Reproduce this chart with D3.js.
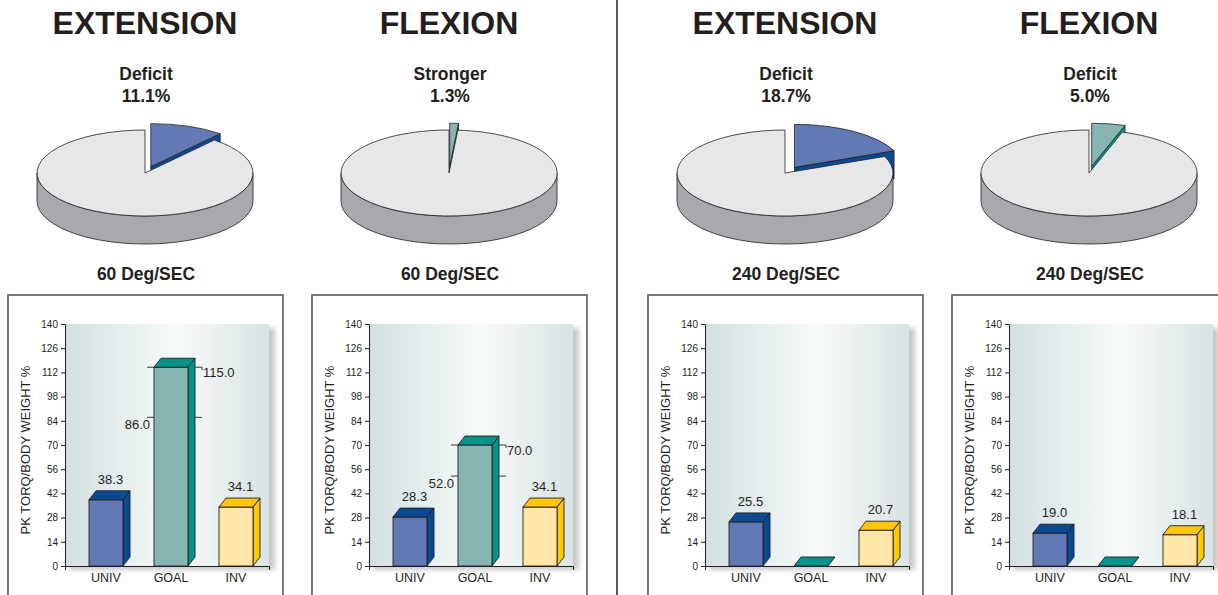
<!DOCTYPE html>
<html>
<head>
<meta charset="utf-8">
<script src="https://cdn.jsdelivr.net/npm/d3@7"></script>
<style>
  html, body { margin: 0; padding: 0; background: #ffffff; }
  svg { display: block; font-family: "Liberation Sans", Arial, Helvetica, sans-serif; }
</style>
</head>
<body>
<svg id="chart" width="1218" height="595"></svg>
<script>
// ---- data ----
const categories = ["UNIV", "GOAL", "INV"];
const panelTitles = ["EXTENSION", "FLEXION", "EXTENSION", "FLEXION"];
const speedLabels = ["60 Deg/SEC", "60 Deg/SEC", "240 Deg/SEC", "240 Deg/SEC"];
const pieLabels = ["Deficit", "Stronger", "Deficit", "Deficit"];
const piePercents = [11.1, 1.3, 18.7, 5.0];
const univValues = [38.3, 28.3, 25.5, 19.0];
const goalValues = [115.0, 70.0, 0, 0];
const goalLowValues = [86.0, 52.0, null, null];
const invValues = [34.1, 34.1, 20.7, 18.1];
const yTicks = [0, 14, 28, 42, 56, 70, 84, 98, 112, 126, 140];
const yLabel = "PK TORQ/BODY WEIGHT %";

// ---- styling ----
const ink = "#231f20";
const barColors = {
  UNIV: { front: "#6279b5", dark: "#0b4a92" },
  GOAL: { front: "#86b5b3", dark: "#00948c" },
  INV:  { front: "#fde6a6", dark: "#ffc60b" }
};
const sliceColors = {
  EXTENSION: { top: "#6279b5", side: "#0b4a92" },
  FLEXION:   { top: "#86b5b3", side: "#00948c" }
};
const pieTop = "#e6e7e8", pieSide = "#a7a9ac";

const svg = d3.select("#chart");
const defs = svg.append("defs");

const grad = defs.append("linearGradient").attr("id", "plotBg")
  .attr("x1", "0%").attr("x2", "100%").attr("y1", "0%").attr("y2", "0%");
grad.append("stop").attr("offset", "0%").attr("stop-color", "#d2e0e0");
grad.append("stop").attr("offset", "55%").attr("stop-color", "#f8fafa");
grad.append("stop").attr("offset", "100%").attr("stop-color", "#d8e3e3");

defs.append("filter").attr("id", "soft").attr("x", "-10%").attr("y", "-10%")
  .attr("width", "130%").attr("height", "130%")
  .append("feGaussianBlur").attr("stdDeviation", 2.5);

// panel geometry
const boxLefts = [8, 312, 648, 952];
const boxTop = 295, boxW = 275;
const plotTop = 324, plotBottom = 566, plotW = 204;
const barW = 34, depthX = 7, depthY = -9;

const y = d3.scaleLinear().domain([0, 140]).range([plotBottom, plotTop]);

// divider between the two speed groups
svg.append("line").attr("x1", 617).attr("x2", 617).attr("y1", 0).attr("y2", 595)
  .attr("stroke", ink).attr("stroke-width", 1.5);

// ---- 3D pie helpers ----
const pie = d3.pie().sort(null).value(d => d);

function drawPie(g, cx, cy, pct, kind) {
  const rx = 108, ry = 43, depth = 28, explode = 17;
  const arcs = pie([pct, 100 - pct]);
  const P = (a, ox, oy, dy) => [ox + rx * Math.sin(a), oy - ry * Math.cos(a) + (dy || 0)];
  const fmt = p => p[0].toFixed(2) + "," + p[1].toFixed(2);

  function sectorPath(ox, oy, a0, a1) {
    const large = (a1 - a0) > Math.PI ? 1 : 0;
    return "M" + fmt([ox, oy]) + "L" + fmt(P(a0, ox, oy)) +
      "A" + rx + "," + ry + " 0 " + large + " 1 " + fmt(P(a1, ox, oy)) + "Z";
  }
  function rimPath(ox, oy, a0, a1) {
    const b0 = Math.max(a0, Math.PI / 2), b1 = Math.min(a1, 3 * Math.PI / 2);
    if (b1 <= b0) return null;
    const large = (b1 - b0) > Math.PI ? 1 : 0;
    return "M" + fmt(P(b0, ox, oy)) +
      "A" + rx + "," + ry + " 0 " + large + " 1 " + fmt(P(b1, ox, oy)) +
      "L" + fmt(P(b1, ox, oy, depth)) +
      "A" + rx + "," + ry + " 0 " + large + " 0 " + fmt(P(b0, ox, oy, depth)) + "Z";
  }
  function endFace(ox, oy, a) {
    return "M" + fmt([ox, oy]) + "L" + fmt(P(a, ox, oy)) + "L" + fmt(P(a, ox, oy, depth)) +
      "L" + fmt([ox, oy + depth]) + "Z";
  }

  const s = arcs[0], m = arcs[1];
  const mid = (s.startAngle + s.endAngle) / 2;
  const sx = cx + explode * Math.sin(mid);
  const sy = cy - explode * Math.cos(mid) * ry / rx;
  const col = sliceColors[kind];

  // exploded slice (sits behind the main body)
  if (Math.sin(s.endAngle) > 0) {
    g.append("path").attr("d", endFace(sx, sy, s.endAngle))
      .attr("fill", col.side).attr("stroke", ink).attr("stroke-width", 0.8).attr("stroke-linejoin", "round");
  }
  const sr = rimPath(sx, sy, s.startAngle, s.endAngle);
  if (sr) g.append("path").attr("d", sr).attr("fill", col.side).attr("stroke", ink).attr("stroke-width", 0.8);
  g.append("path").attr("d", sectorPath(sx, sy, s.startAngle, s.endAngle))
    .attr("fill", col.top).attr("stroke", ink).attr("stroke-width", 0.8).attr("stroke-linejoin", "round");

  // main body
  const mr = rimPath(cx, cy, m.startAngle, m.endAngle);
  if (mr) g.append("path").attr("d", mr).attr("fill", pieSide).attr("stroke", ink).attr("stroke-width", 0.8);
  g.append("path").attr("d", sectorPath(cx, cy, m.startAngle, m.endAngle))
    .attr("fill", pieTop).attr("stroke", ink).attr("stroke-width", 0.8).attr("stroke-linejoin", "round");
}

// ---- 3D bar helper ----
function drawBar(g, xc, v, colors) {
  const x0 = xc - barW / 2, x1 = xc + barW / 2;
  const y0 = y(v), y1 = y(0);
  const pts = a => a.map(p => p.join(",")).join(" ");
  if (v > 0) {
    g.append("polygon")
      .attr("points", pts([[x1, y0], [x1 + depthX, y0 + depthY], [x1 + depthX, y1 + depthY], [x1, y1]]))
      .attr("fill", colors.dark).attr("stroke", ink).attr("stroke-width", 0.9).attr("stroke-linejoin", "round");
    g.append("rect").attr("x", x0).attr("y", y0).attr("width", barW).attr("height", y1 - y0)
      .attr("fill", colors.front).attr("stroke", ink).attr("stroke-width", 0.9);
  }
  g.append("polygon")
    .attr("points", pts([[x0, y0], [x0 + depthX, y0 + depthY], [x1 + depthX, y0 + depthY], [x1, y0]]))
    .attr("fill", colors.dark).attr("stroke", ink).attr("stroke-width", 0.9).attr("stroke-linejoin", "round");
}

// ---- panels ----
boxLefts.forEach((bx, i) => {
  const g = svg.append("g");
  const cx = bx + 137;
  const title = panelTitles[i];

  g.append("text").attr("x", bx + 137).attr("y", 34).attr("text-anchor", "middle")
    .attr("font-size", 32).attr("font-weight", "bold").attr("fill", ink).text(title);
  g.append("text").attr("x", cx + 1).attr("y", 80).attr("text-anchor", "middle")
    .attr("font-size", 17.5).attr("font-weight", "bold").attr("fill", ink).text(pieLabels[i]);
  g.append("text").attr("x", cx + 1).attr("y", 102).attr("text-anchor", "middle")
    .attr("font-size", 17.5).attr("font-weight", "bold").attr("fill", ink)
    .text(piePercents[i].toFixed(1) + "%");

  drawPie(g, cx, 173, piePercents[i], title);

  g.append("text").attr("x", cx + 1).attr("y", 280).attr("text-anchor", "middle")
    .attr("font-size", 17.5).attr("font-weight", "bold").attr("fill", ink).text(speedLabels[i]);

  // frame around the bar chart
  g.append("rect").attr("x", bx).attr("y", boxTop).attr("width", boxW).attr("height", 340)
    .attr("fill", "#ffffff").attr("stroke", "#58595b").attr("stroke-width", 1.6);

  const left = bx + 57, right = left + plotW;

  // plot background with soft shadow
  g.append("rect").attr("x", left + 4).attr("y", plotTop + 4).attr("width", plotW + 2)
    .attr("height", plotBottom - plotTop).attr("fill", "#9a9c9e").attr("opacity", 0.55)
    .attr("filter", "url(#soft)");
  g.append("rect").attr("x", left).attr("y", plotTop).attr("width", plotW)
    .attr("height", plotBottom - plotTop).attr("fill", "url(#plotBg)");

  // y axis
  const yAxis = g.append("g").attr("transform", `translate(${left},0)`)
    .call(d3.axisLeft(y).tickValues(yTicks).tickSize(4).tickSizeOuter(0).tickPadding(3));
  yAxis.selectAll("path, line").attr("stroke", ink);
  yAxis.selectAll("text").attr("font-size", 10).attr("fill", ink)
    .attr("font-family", '"Liberation Sans", Arial, sans-serif');

  // x axis baseline
  const xLine = d3.scaleLinear().range([left, right]);
  const xAxis = g.append("g").attr("transform", `translate(0,${plotBottom})`)
    .call(d3.axisBottom(xLine).tickValues([]).tickSizeOuter(4));
  xAxis.selectAll("path").attr("stroke", ink);

  g.append("text").attr("transform", `translate(${bx + 22},450) rotate(-90)`)
    .attr("text-anchor", "middle").attr("font-size", 13).attr("fill", ink).text(yLabel);

  const x = d3.scalePoint().domain(categories).range([left + 41, left + 171]);

  // goal range lines (behind the goal bar)
  const gx = x("GOAL");
  const hi = goalValues[i], lo = goalLowValues[i];
  if (lo !== null) {
    [hi, lo].forEach(v => {
      g.append("line").attr("x1", gx - 24).attr("x2", gx + 31).attr("y1", y(v)).attr("y2", y(v))
        .attr("stroke", ink).attr("stroke-width", 0.9);
    });
    g.append("line").attr("x1", gx + 31).attr("x2", gx + 31).attr("y1", y(hi)).attr("y2", y(hi) + 3)
      .attr("stroke", ink).attr("stroke-width", 0.9);
  }

  const values = { UNIV: univValues[i], GOAL: goalValues[i], INV: invValues[i] };
  categories.forEach(c => drawBar(g, x(c), values[c], barColors[c]));

  // value labels
  ["UNIV", "INV"].forEach(c => {
    g.append("text").attr("x", x(c) + depthX / 2 + 1).attr("y", y(values[c]) + depthY - 7)
      .attr("text-anchor", "middle").attr("font-size", 13).attr("fill", ink)
      .text(values[c].toFixed(1));
  });
  if (lo !== null) {
    g.append("text").attr("x", gx + 32).attr("y", y(hi) + 9.5).attr("font-size", 13).attr("fill", ink)
      .text(hi.toFixed(1));
    g.append("text").attr("x", gx - 21).attr("y", y(lo) + 12).attr("text-anchor", "end")
      .attr("font-size", 13).attr("fill", ink).text(lo.toFixed(1));
  }

  // category labels
  categories.forEach(c => {
    g.append("text").attr("x", x(c)).attr("y", plotBottom + 15.5).attr("text-anchor", "middle")
      .attr("font-size", 12.5).attr("fill", ink).text(c);
  });
});
</script>
</body>
</html>
